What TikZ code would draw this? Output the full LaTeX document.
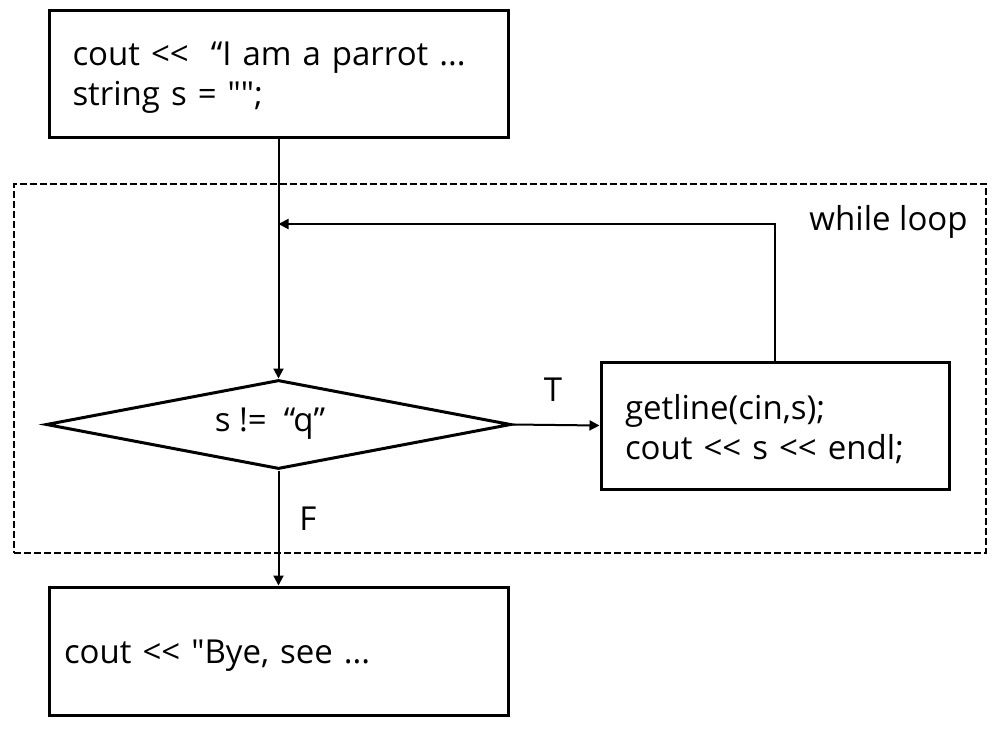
\documentclass[tikz,border=0pt]{standalone}
\usepackage{fontspec}
\setmainfont{Open Sans}[Ligatures=TeXOff]
\usetikzlibrary{shapes.geometric,arrows.meta}
\begin{document}
\begin{tikzpicture}[x=0.5pt,y=-0.5pt,
  every node/.style={font=\fontsize{16.5}{20}\selectfont},
  box/.style={draw,line width=1.5pt,rectangle,inner sep=0pt,align=left},
  arr/.style={line width=1pt,-{Triangle[length=5pt,width=5pt]}},
  lab/.style={inner sep=0pt}]
\useasboundingbox (0,0) rectangle (1003,729);
\node[draw,dash pattern=on 3.3pt off 1.7pt,line width=1.2pt,minimum width=486pt,minimum height=184.5pt,inner sep=0pt] (loop) at (500,368.5) {};
\node[lab,anchor=east] (wl) at (968,222) {while loop};
\node[box,minimum width=229.5pt,minimum height=63.5pt,text width=206pt] (top) at (278.5,73.5) {\rule{0pt}{16pt}cout <<\ \ “I am a parrot ...\\string s = "";};
\node[draw,diamond,line width=1.5pt,inner sep=0pt,minimum width=232.5pt,minimum height=44.5pt] (dia) at (278.5,424.5) {};
\node[lab] (dtext) at (270,424) {s !=\ \ “q”};
\node[box,minimum width=174pt,minimum height=63.5pt,text width=150pt] (rb) at (775,425.5) {\rule{0pt}{16pt}getline(cin,s);\\cout << s << endl;};
\node[box,minimum width=229.5pt,minimum height=64pt,text width=214.5pt] (bot) at (278.5,651) {\rule{0pt}{16pt}cout << "Bye, see ...};
\coordinate (join) at (278.5,224);
\draw[arr] (top) -- (dia);
\draw[arr] (rb.north) |- (join);
\draw[arr] (dia.east) -- (rb.west);
\draw[arr] (dia.south) -- (bot.north);
\node[lab] (T) at (553,390) {T};
\node[lab] (F) at (308,519) {F};
\end{tikzpicture}
\end{document}
